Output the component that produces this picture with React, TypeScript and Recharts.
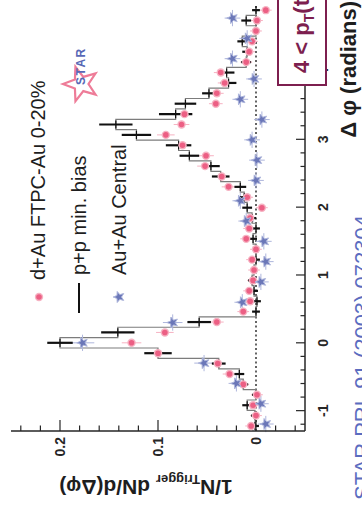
import {
  ComposedChart,
  ErrorBar,
  Line,
  ReferenceLine,
  Scatter,
  XAxis,
  YAxis,
} from "recharts"

// fine Δφ bins (rad) shared by p+p and d+Au
const PHI_FINE = [
  -1.226, -1.073, -0.92, -0.766, -0.613, -0.46, -0.306, -0.153, 0, 0.153, 0.306,
  0.46, 0.613, 0.766, 0.92, 1.073, 1.226, 1.379, 1.533, 1.686, 1.839, 1.992,
  2.146, 2.299, 2.452, 2.605, 2.758, 2.912, 3.065, 3.218, 3.371, 3.525, 3.678,
  3.831, 3.984, 4.138, 4.291, 4.444, 4.597, 4.751, 4.904,
]
const PP_VALUES = [
  0.001, 0.001, 0.009, 0.0, 0.013, 0.017, 0.038, 0.1, 0.2, 0.141, 0.058, 0.0,
  -0.001, 0.002, 0.004, 0.002, 0.0, 0.0, 0.003, 0.0, 0.004, 0.009, 0.012, 0.016,
  0.036, 0.046, 0.068, 0.079, 0.122, 0.143, 0.082, 0.072, 0.048, 0.028, 0.03,
  0.01, 0.009, 0.014, 0.0, 0.01, 0.0,
]
const PP_ERRORS = [
  0.004, 0.004, 0.005, 0.004, 0.005, 0.005, 0.007, 0.014, 0.013, 0.017, 0.012,
  0.004, 0.004, 0.004, 0.004, 0.004, 0.004, 0.004, 0.004, 0.004, 0.004, 0.005,
  0.005, 0.006, 0.009, 0.009, 0.01, 0.013, 0.015, 0.017, 0.017, 0.011, 0.007,
  0.008, 0.008, 0.005, 0.005, 0.005, 0.004, 0.005, 0.004,
]
const DAU_VALUES = [
  0.005, 0.0, 0.003, -0.001, 0.013, 0.027, 0.039, 0.1, 0.127, 0.093, 0.04, 0.013,
  0.006, 0.007, 0.003, 0.002, 0.004, 0.0, 0.01, 0.007, 0.006, -0.006, 0.009,
  0.028, 0.035, 0.052, 0.051, 0.075, 0.092, 0.076, 0.073, 0.041, 0.04, 0.032,
  0.036, 0.01, 0.007, 0.004, 0.0, -0.001, -0.01,
]
const DAU_ERRORS = [
  0.006, 0.006, 0.006, 0.006, 0.006, 0.007, 0.007, 0.009, 0.01, 0.009, 0.007,
  0.006, 0.006, 0.006, 0.006, 0.006, 0.006, 0.006, 0.006, 0.006, 0.006, 0.006,
  0.006, 0.007, 0.007, 0.008, 0.008, 0.008, 0.009, 0.008, 0.008, 0.007, 0.007,
  0.007, 0.007, 0.006, 0.006, 0.006, 0.006, 0.006, 0.006,
]

// Au+Au has wider bins
const PHI_COARSE = [
  -1.197, -0.898, -0.598, -0.299, 0, 0.299, 0.598, 0.898, 1.197, 1.496, 1.795,
  2.094, 2.394, 2.693, 2.992, 3.291, 3.59, 3.89, 4.189, 4.488, 4.787,
]
const AUAU_VALUES = [
  -0.01, -0.005, 0.02, 0.053, 0.177, 0.085, 0.014, -0.005, -0.01, -0.008, 0.01,
  0.016, 0.0, -0.001, 0.004, -0.006, 0.016, 0.002, 0.024, 0.009, 0.024,
]
const AUAU_ERRORS = [
  0.008, 0.008, 0.008, 0.01, 0.012, 0.01, 0.008, 0.008, 0.008, 0.008, 0.008,
  0.008, 0.008, 0.008, 0.008, 0.008, 0.008, 0.008, 0.008, 0.008, 0.008,
]

const PHI_TICKS = [
  -1.2, -1, -0.8, -0.6, -0.4, -0.2, 0, 0.2, 0.4, 0.6, 0.8, 1, 1.2, 1.4, 1.6, 1.8,
  2, 2.2, 2.4, 2.6, 2.8, 3, 3.2, 3.4, 3.6, 3.8, 4, 4.2, 4.4, 4.6, 4.8,
]
const VALUE_TICKS = [
  -0.04, -0.02, 0, 0.02, 0.04, 0.06, 0.08, 0.1, 0.12, 0.14, 0.16, 0.18, 0.2,
  0.22, 0.24,
]

const LEGEND = ["d+Au FTPC-Au 0-20%", "p+p min. bias", "Au+Au Central"]

const W = 506
const H = 362
const FONT = "'Liberation Sans', Arial, Helvetica, sans-serif"
const FRAME = "#262626"
const PINK = "#ec5f84"
const PINK_LIGHT = "#f6b2c2"
const BLUE = "#6b77b8"
const BLUE_LIGHT = "#aeb6dc"
const MAROON = "#7d1f4f"

const ppData = PHI_FINE.map((x, i) => ({ x, y: PP_VALUES[i], ey: PP_ERRORS[i], ex: 0.06 }))
const dauData = PHI_FINE.map((x, i) => ({ x, y: DAU_VALUES[i], ey: DAU_ERRORS[i], ex: 0.05 }))
const auauData = PHI_COARSE.map((x, i) => ({ x, y: AUAU_VALUES[i], ey: AUAU_ERRORS[i], ex: 0.12 }))

function isMajor(v: number, step: number) {
  return Math.abs(v / step - Math.round(v / step)) < 1e-6
}

function starPath(cx: number, cy: number, R: number, r: number) {
  let d = ""
  for (let i = 0; i < 10; i++) {
    const a = -Math.PI / 2 + (i * Math.PI) / 5
    const rad = i % 2 === 0 ? R : r
    d += (i === 0 ? "M" : "L") + (cx + rad * Math.cos(a)).toFixed(2) + "," + (cy + rad * Math.sin(a)).toFixed(2)
  }
  return d + "Z"
}

function DotShape(props: any) {
  const { cx, cy } = props
  if (cx == null || cy == null) return <g />
  return (
    <g>
      <circle cx={cx} cy={cy} r={4.2} fill={PINK_LIGHT} />
      <circle cx={cx} cy={cy} r={2.8} fill={PINK} />
    </g>
  )
}

function StarShape(props: any) {
  const { cx, cy } = props
  if (cx == null || cy == null) return <g />
  return <path d={starPath(cx, cy, 5.8, 2.5)} fill={BLUE} stroke={BLUE_LIGHT} strokeWidth={1} />
}

function NoShape() {
  return <g />
}

function PhiTickBottom(props: any) {
  const { x, y, payload } = props
  const v = payload.value as number
  const major = isMajor(v, 1)
  return (
    <g>
      <line x1={x} x2={x} y1={y} y2={y - (major ? 9 : 4.5)} stroke={FRAME} strokeWidth={1.2} />
      {major && (
        <text x={x} y={y + 23} textAnchor="middle" fontSize={14} fontWeight="bold" fill={FRAME} fontFamily={FONT}>
          {Math.round(v)}
        </text>
      )}
    </g>
  )
}

function PhiTickTop(props: any) {
  const { x, y, payload } = props
  const major = isMajor(payload.value, 1)
  return <line x1={x} x2={x} y1={y} y2={y + (major ? 7 : 3.5)} stroke={FRAME} strokeWidth={1.2} />
}

function ValueTickLeft(props: any) {
  const { x, y, payload } = props
  const v = payload.value as number
  const major = isMajor(v, 0.1)
  return (
    <g>
      <line x1={x} x2={x + (major ? 11 : 5.5)} y1={y} y2={y} stroke={FRAME} strokeWidth={1.2} />
      {major && (
        <text x={x - 6} y={y + 5} textAnchor="end" fontSize={14} fontWeight="bold" fill={FRAME} fontFamily={FONT}>
          {Math.abs(v) < 1e-9 ? "0" : v.toFixed(1)}
        </text>
      )}
    </g>
  )
}

function ValueTickRight(props: any) {
  const { x, y, payload } = props
  const major = isMajor(payload.value, 0.1)
  return <line x1={x} x2={x - (major ? 11 : 5.5)} y1={y} y2={y} stroke={FRAME} strokeWidth={1.2} />
}

function Overlay() {
  return (
    <svg width={W} height={H} style={{ position: "absolute", left: 0, top: 0, pointerEvents: "none" }} fontFamily={FONT}>
      {/* y axis title */}
      <text transform="translate(26,146) rotate(-90)" textAnchor="middle" fontSize={21} fontWeight="bold" fill="#1e1e1e">
        1/N
        <tspan fontSize={13} dy={5}>Trigger</tspan>
        <tspan dy={-5}> dN/d(Δφ)</tspan>
      </text>
      {/* x axis title */}
      <text x={505} y={356} textAnchor="end" fontSize={22} fontWeight="bold" fill="#1e1e1e">
        Δ φ (radians)
      </text>

      {/* legend */}
      <circle cx={209} cy={39} r={4.2} fill={PINK_LIGHT} />
      <circle cx={209} cy={39} r={2.8} fill={PINK} />
      <text x={226} y={45} fontSize={20} fill="#1e1e1e">{LEGEND[0]}</text>
      <line x1={193} x2={223} y1={79} y2={79} stroke="#111" strokeWidth={2} />
      <text x={231} y={86} fontSize={20} fill="#1e1e1e">{LEGEND[1]}</text>
      <path d={starPath(209, 119, 5.8, 2.5)} fill={BLUE} stroke={BLUE_LIGHT} strokeWidth={1} />
      <text x={231} y={126} fontSize={20} fill="#1e1e1e">{LEGEND[2]}</text>

      {/* STAR logo */}
      <path d={starPath(422, 81, 18, 7.5)} fill="none" stroke="#ee7c98" strokeWidth={2.2} />
      <text x={421} y={85} fontSize={12} fontWeight="bold" letterSpacing={1.5} fill="#5868b6">STAR</text>

      {/* trigger pT box */}
      <rect x={421} y={278} width={120} height={48} fill="#fff" stroke={MAROON} strokeWidth={2} />
      <text x={433} y={309} fontSize={22} fontWeight="bold" fill={MAROON}>
        4 &lt; p
        <tspan fontSize={14} dy={5}>T</tspan>
        <tspan dy={-5}>(trig) &lt; 6 GeV/c</tspan>
      </text>

      {/* reference */}
      <text x={6} y={370} fontSize={22} fill="#5b6cbf">STAR PRL 91 (2003) 072304</text>
    </svg>
  )
}

export default function App() {
  const axisLine = { stroke: FRAME, strokeWidth: 1.5 }
  return (
    <div
      style={{
        position: "fixed",
        left: 0,
        top: 0,
        width: H,
        height: W,
        overflow: "hidden",
        background: "#fff",
        fontFamily: FONT,
      }}
    >
      <div
        style={{
          position: "absolute",
          left: 0,
          top: 0,
          width: W,
          height: H,
          transformOrigin: "0 0",
          transform: `translateY(${W}px) rotate(-90deg)`,
        }}
      >
        <ComposedChart width={W} height={H} margin={{ top: 11, right: 5, bottom: 0, left: 0 }}>
          <XAxis
            type="number"
            dataKey="x"
            domain={[-1.3, 4.98]}
            allowDataOverflow
            ticks={PHI_TICKS}
            interval={0}
            tickSize={0}
            tickMargin={0}
            tickLine={false}
            tick={(p: any) => <PhiTickBottom {...p} />}
            axisLine={axisLine}
            height={57}
          />
          <XAxis
            xAxisId="top"
            orientation="top"
            type="number"
            domain={[-1.3, 4.98]}
            allowDataOverflow
            ticks={PHI_TICKS}
            interval={0}
            tickSize={0}
            tickMargin={0}
            tickLine={false}
            tick={(p: any) => <PhiTickTop {...p} />}
            axisLine={axisLine}
            height={0}
          />
          <YAxis
            type="number"
            dataKey="y"
            domain={[-0.05, 0.25]}
            allowDataOverflow
            ticks={VALUE_TICKS}
            interval={0}
            tickSize={0}
            tickMargin={0}
            tickLine={false}
            tick={(p: any) => <ValueTickLeft {...p} />}
            axisLine={axisLine}
            width={75}
          />
          <YAxis
            yAxisId="right"
            orientation="right"
            type="number"
            domain={[-0.05, 0.25]}
            allowDataOverflow
            ticks={VALUE_TICKS}
            interval={0}
            tickSize={0}
            tickMargin={0}
            tickLine={false}
            tick={(p: any) => <ValueTickRight {...p} />}
            axisLine={axisLine}
            width={0}
          />
          <ReferenceLine y={0} stroke="#333" strokeWidth={1.5} strokeDasharray="2 2.5" />

          <Line
            data={ppData}
            dataKey="y"
            type="step"
            stroke="#7c7c7c"
            strokeWidth={1.2}
            dot={false}
            activeDot={false}
            isAnimationActive={false}
          />
          <Scatter data={dauData} shape={(p: any) => <DotShape {...p} />} isAnimationActive={false}>
            <ErrorBar dataKey="ey" direction="y" width={0} stroke={PINK_LIGHT} strokeWidth={1} />
            <ErrorBar dataKey="ex" direction="x" width={0} stroke={PINK_LIGHT} strokeWidth={1} />
          </Scatter>
          <Scatter data={auauData} shape={(p: any) => <StarShape {...p} />} isAnimationActive={false}>
            <ErrorBar dataKey="ey" direction="y" width={0} stroke={BLUE_LIGHT} strokeWidth={1} />
            <ErrorBar dataKey="ex" direction="x" width={0} stroke={BLUE_LIGHT} strokeWidth={1} />
          </Scatter>
          <Scatter data={ppData} shape={() => <NoShape />} isAnimationActive={false}>
            <ErrorBar dataKey="ey" direction="y" width={0} stroke="#111" strokeWidth={2.2} />
            <ErrorBar dataKey="ex" direction="x" width={0} stroke="#111" strokeWidth={1.2} />
          </Scatter>
        </ComposedChart>
        <Overlay />
      </div>
    </div>
  )
}
